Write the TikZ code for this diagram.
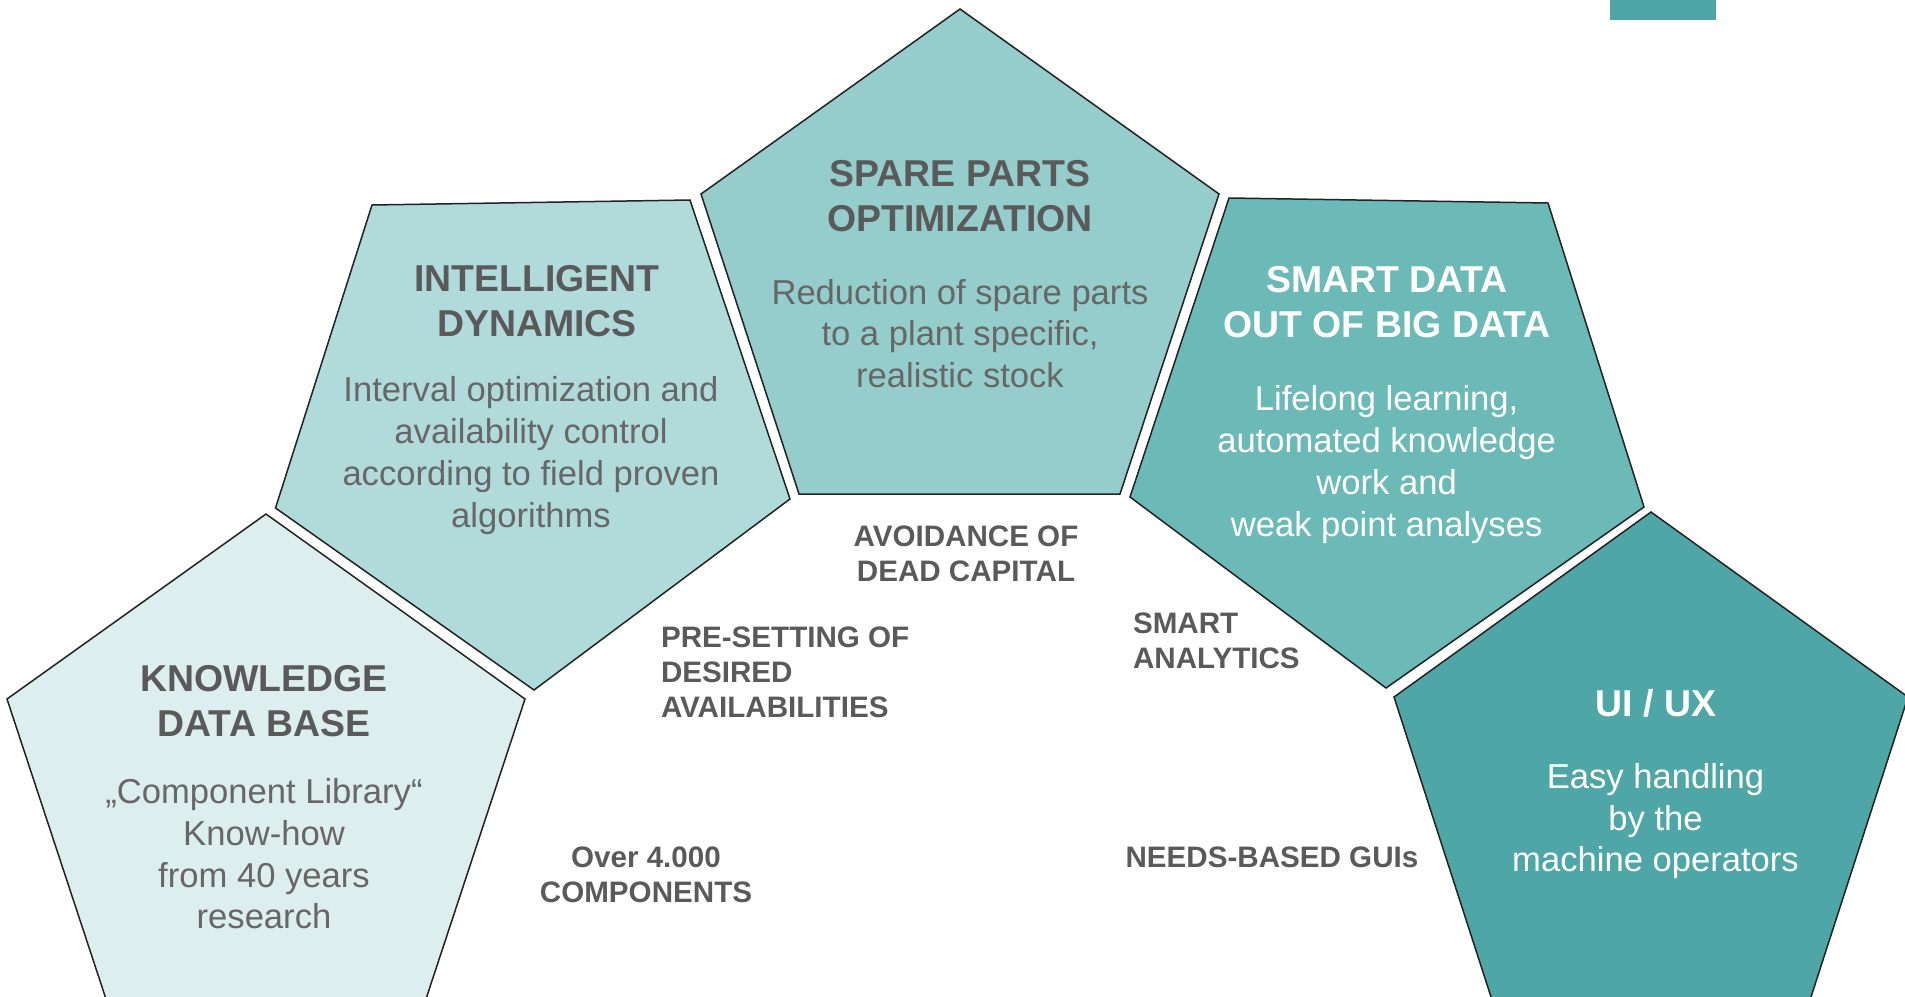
\documentclass[tikz,border=0pt]{standalone}
\usepackage{fontspec}
\setmainfont{Liberation Sans}

\definecolor{tealA}{HTML}{DDEEEE}
\definecolor{tealB}{HTML}{B0DBDA}
\definecolor{tealC}{HTML}{94CDCB}
\definecolor{tealD}{HTML}{6CBAB7}
\definecolor{tealE}{HTML}{4FA6A6}
\definecolor{headgray}{HTML}{5A5A5A}
\definecolor{bodygray}{HTML}{676767}
\definecolor{edgegray}{HTML}{222222}

% stacked lines whose baseline is the first line
\newcommand\stackc[1]{\begin{tabular}[t]{@{}c@{}}#1\end{tabular}}
\newcommand\stackl[1]{\begin{tabular}[t]{@{}l@{}}#1\end{tabular}}

\tikzset{
  pent/.style={draw=edgegray, line width=0.75pt, line join=miter},
  txt/.style={inner sep=0pt, outer sep=0pt, anchor=base},
  head/.style={txt, text=headgray, font=\fontsize{18.7}{22.5}\selectfont\bfseries},
  headw/.style={txt, text=white, font=\fontsize{18.7}{22.5}\selectfont\bfseries},
  body/.style={txt, text=bodygray, font=\fontsize{17.3}{20.9}\selectfont},
  bodyw/.style={txt, text=white, font=\fontsize{17.3}{20.9}\selectfont},
  tag/.style={txt, text=headgray, font=\fontsize{14.8}{17.5}\selectfont\bfseries},
}

\begin{document}
\begin{tikzpicture}[x=0.5pt, y=-0.5pt]
\useasboundingbox (0,0) rectangle (1905,996);

\begin{scope}
  \clip (0,0) rectangle (1905,996);
  % small bar in the upper right corner
  \fill[tealE] (1610,0) rectangle (1716,20);

  % five pentagons
  \draw[pent, fill=tealA] (266,514) -- (525,699) -- (425,1002) -- (107,1002) -- (7,699) -- cycle;
  \draw[pent, fill=tealB] (372,205) -- (690,200) -- (790,499) -- (534,690) -- (275.5,508) -- cycle;
  \draw[pent, fill=tealC] (960,9) -- (1219,194) -- (1120,494) -- (799,494) -- (701,194) -- cycle;
  \draw[pent, fill=tealD] (1229,198) -- (1548,203) -- (1644,507) -- (1386,688) -- (1130,497) -- cycle;
  \draw[pent, fill=tealE] (1651,512) -- (1908,697) -- (1810,1000) -- (1492,1000) -- (1394,697) -- cycle;
\end{scope}

% knowledge data base
\node[head] (kdbHead) at (264,691.7) {\stackc{KNOWLEDGE\\DATA BASE}};
\node[body] (kdbBody) at (264,803.5) {\stackc{„Component Library“\\Know-how\\from 40 years\\research}};

% intelligent dynamics
\node[head] (idHead) at (537,291.7) {\stackc{INTELLIGENT\\DYNAMICS}};
\node[body] (idBody) at (531,401.7) {\stackc{Interval optimization and\\availability control\\according to field proven\\algorithms}};

% spare parts optimization
\node[head] (spHead) at (960,186.7) {\stackc{SPARE PARTS\\OPTIMIZATION}};
\node[body] (spBody) at (960,304) {\stackc{Reduction of spare parts\\to a plant specific,\\realistic stock}};

% smart data
\node[headw] (sdHead) at (1387,292.7) {\stackc{SMART DATA\\OUT OF BIG DATA}};
\node[bodyw] (sdBody) at (1386.6,410.7) {\stackc{Lifelong learning,\\automated knowledge\\work and\\weak point analyses}};

% ui / ux
\node[headw] (uxHead) at (1656,716) {\stackc{UI / UX}};
\node[bodyw] (uxBody) at (1655.5,788.3) {\stackc{Easy handling\\by the\\machine operators}};

% labels between the pentagons
\node[tag] (tagCapital) at (966,546) {\stackc{AVOIDANCE OF\\DEAD CAPITAL}};
\node[tag, anchor=base west] (tagPreset) at (661,647) {\stackl{PRE-SETTING OF\\DESIRED\\AVAILABILITIES}};
\node[tag, anchor=base west] (tagAnalytics) at (1133,633) {\stackl{SMART\\ANALYTICS}};
\node[tag] (tagComponents) at (646,867) {\stackc{Over 4.000\\COMPONENTS}};
\node[tag, anchor=base west] (tagGui) at (1125.6,867) {NEEDS-BASED GUIs};
\end{tikzpicture}
\end{document}
